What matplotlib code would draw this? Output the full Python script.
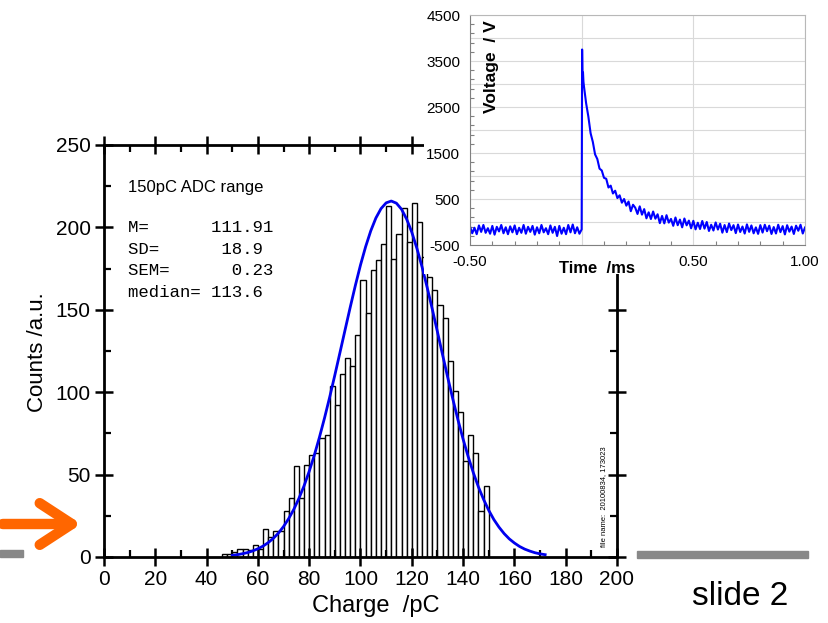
import numpy as np
import matplotlib
matplotlib.use("Agg")
import matplotlib.pyplot as plt
from matplotlib.patches import Rectangle, FancyArrowPatch
from matplotlib.ticker import MultipleLocator

plt.rcParams['font.family'] = ['Liberation Sans', 'DejaVu Sans']

# --- histogram data (2 pC bins, left edges) ---
bin_left = list(range(46, 150, 2))
counts = [2, 2, 3, 5, 5, 4, 7, 5, 17, 12,
          16, 16, 28, 36, 55, 36, 56, 62, 63, 72,
          74, 104, 92, 111, 121, 116, 135, 168, 148, 174,
          180, 190, 213, 181, 196, 212, 191, 215, 203, 182,
          170, 162, 153, 145, 119, 101, 88, 58, 74, 63,
          28, 43]

# gaussian fit curve
fit_x = list(range(50, 173, 2))
fit_y = [1.0, 1.4, 2.0, 2.7, 3.7, 5.0, 6.6, 8.7, 11.3, 14.5,
         18.5, 23.3, 28.9, 35.6, 43.2, 52.0, 61.8, 72.7, 84.5, 97.1,
         110.4, 124.1, 137.9, 151.6, 164.8, 177.2, 188.3, 197.9, 205.7, 211.4,
         214.9, 216.0, 214.7, 211.0, 205.0, 197.1, 187.2, 176.0, 163.5, 150.3,
         136.6, 122.7, 109.0, 95.8, 83.2, 71.5, 60.8, 51.1, 42.4, 34.9,
         28.3, 22.7, 18.1, 14.2, 11.0, 8.5, 6.4, 4.8, 3.6, 2.6,
         1.9, 1.4]

stats_lines = ["M=      111.91", "SD=      18.9", "SEM=      0.23", "median= 113.6"]

# --- inset scope trace (time in ms, voltage in V) ---
base_t = np.round(np.arange(-50, 0) * 0.01, 3)
base_v = [-95, -245, -125, -265, -75, -215, -65, -235, -135, -255,
          -85, -275, -105, -205, -65, -245, -115, -265, -95, -225,
          -75, -265, -125, -235, -65, -255, -105, -215, -85, -275,
          -115, -245, -65, -225, -135, -265, -75, -235, -105, -305,
          -85, -255, -125, -265, -65, -225, -55, -245, -115, -255]
peak_t = [0.0, 0.002, 0.004, 0.006, 0.008]
peak_v = [-160, 3750, 3100, 3250, 3050]
decay_t = np.round(np.arange(1, 101) * 0.01, 3)
decay_v = [2960, 2580, 2290, 1930, 1740, 1470, 1370, 1160, 1120, 960,
           940, 750, 790, 620, 680, 520, 580, 420, 500, 355,
           445, 235, 375, 310, 175, 340, 160, 280, 80, 210,
           65, 228, 72, 168, -25, 132, -30, 148, -13, 67,
           -83, 98, -70, 52, -116, 76, -72, 30, -137, 26,
           -160, -16, -152, 22, -144, 0, -195, -60, -185, -10,
           -164, -38, -232, -66, -220, -33, -176, -69, -242, -55,
           -217, -99, -251, -52, -214, -75, -246, -117, -258, -68,
           -230, -60, -200, -80, -260, -110, -250, -60, -220, -90,
           -270, -70, -210, -100, -260, -80, -190, -60, -250, -120]

trace_t = np.concatenate([base_t, peak_t, decay_t])
trace_v = np.concatenate([base_v, peak_v, decay_v])

W, H = 829, 623


def px_box(l, t, r, b):
    return [l / W, 1 - b / H, (r - l) / W, (b - t) / H]


fig = plt.figure(figsize=(W / 100, H / 100), dpi=100)

# ---------- main histogram ----------
ax = fig.add_axes(px_box(104, 145, 617, 557))
ax.bar(bin_left, counts, width=2, align='edge', facecolor='white',
       edgecolor='black', linewidth=1.0)
ax.plot(fit_x, fit_y, color='#0000ee', lw=2)
ax.set_xlim(0, 200)
ax.set_ylim(0, 250)
ax.set_xticks(range(0, 201, 20))
ax.set_yticks(range(0, 251, 50))
ax.xaxis.set_minor_locator(MultipleLocator(10))
ax.yaxis.set_minor_locator(MultipleLocator(25))
ax.tick_params(which='major', direction='inout', length=13, width=1.8,
               top=True, right=True, labelsize=15, pad=3)
ax.tick_params(which='minor', direction='in', length=5, width=1.6,
               top=True, right=True)
for s in ax.spines.values():
    s.set_linewidth(2)

ax.text(0.047, 0.898, "150pC ADC range", transform=ax.transAxes,
        fontsize=12, va='center', ha='left')
for i, line in enumerate(stats_lines):
    ax.text(0.046, 0.788 - i * 0.052, line, transform=ax.transAxes,
            fontsize=12.5, family='Liberation Mono', va='baseline', ha='left')
ax.text(0.973, 0.146, "file name:  20100834, 173023", transform=ax.transAxes,
        fontsize=5.5, rotation=90, ha='center', va='center')

fig.text(38 / W, 1 - 352 / H, "Counts /a.u.", rotation=90, fontsize=16,
         ha='center', va='center')
fig.text(376 / W, 1 - 606 / H, "Charge  /pC", fontsize=17,
         ha='center', va='center')

# ---------- decorations ----------
fig.add_artist(Rectangle((0, 1 - 557 / H), 23 / W, 7 / H,
                         transform=fig.transFigure, color='#888888', zorder=1))
fig.add_artist(Rectangle((637 / W, 1 - 558 / H), 171 / W, 7 / H,
                         transform=fig.transFigure, color='#888888', zorder=1))
fig.add_artist(FancyArrowPatch((0, 1 - 524 / H), (84 / W, 1 - 524 / H),
                               transform=fig.transFigure,
                               arrowstyle='->,head_length=2.3,head_width=1.5',
                               mutation_scale=10, lw=7.5, color='#ff6600',
                               capstyle='round', joinstyle='round', zorder=1))
fig.text(740 / W, 1 - 605 / H, "slide 2", fontsize=24, ha='center',
         va='baseline')

# ---------- inset (oscilloscope trace) ----------
fig.add_artist(Rectangle((424 / W, 1 - 274 / H), (W - 424) / W, 274 / H,
                         transform=fig.transFigure, facecolor='white',
                         edgecolor='none', zorder=1.5))
ax2 = fig.add_axes(px_box(470, 15, 805, 245), zorder=2)
ax2.plot(trace_t, trace_v, color='#0000ff', lw=1.5)
ax2.set_xlim(-0.5, 1.0)
ax2.set_ylim(-500, 4500)

ax2.set_yticks(np.arange(-500, 4501, 500))
ax2.set_yticklabels([str(v) if (v + 500) % 1000 == 0 else ''
                     for v in range(-500, 4501, 500)])
ax2.set_xticks([-0.5, 0.0, 0.5, 1.0])
ax2.set_xticklabels(['-0.50', '', '0.50', '1.00'])
ax2.yaxis.set_minor_locator(MultipleLocator(200, offset=-500))
ax2.xaxis.set_minor_locator(MultipleLocator(0.1))
ax2.tick_params(which='major', length=0, labelsize=11, pad=7)
ax2.tick_params(which='minor', direction='in', length=3, width=0.8,
                color='#808080')
ax2.grid(True, which='major', color='#d9d9d9', lw=0.8)
ax2.set_axisbelow(True)
for side in ['left', 'bottom']:
    ax2.spines[side].set_color('#808080')
for side in ['top', 'right']:
    ax2.spines[side].set_color('#b8b8b8')

ax2.text(0.379, -0.10, "Time  /ms", transform=ax2.transAxes, fontsize=12,
         fontweight='bold', ha='center', va='center')
ax2.text(0.063, 0.978, "Voltage  / V", transform=ax2.transAxes, fontsize=12.5,
         fontweight='bold', rotation=90, ha='center', va='top')

fig.savefig("out.png", dpi=100)
